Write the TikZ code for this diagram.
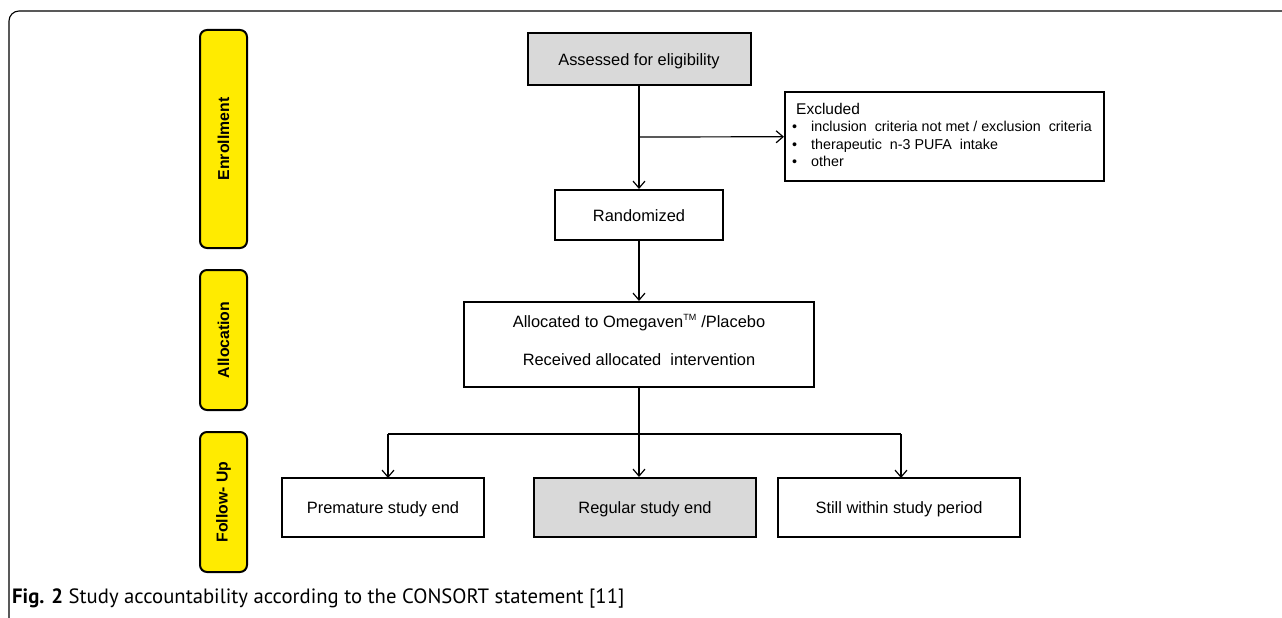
\documentclass[tikz,border=0pt]{standalone}
\usepackage{fontspec}
\setmainfont{Liberation Sans}
\newfontfamily\capfont{PT Sans}
\usetikzlibrary{arrows.meta, shapes}

\definecolor{phaseyellow}{HTML}{FFEB00}
\definecolor{boxgray}{HTML}{D9D9D9}

\begin{document}
\begin{tikzpicture}[x=1pt, y=-1pt,
		box/.style = {draw, line width=2pt, fill=white, inner sep=0pt, font=\fontsize{16.4}{19}\selectfont},
		onebox/.style = {box, text height=14pt, text depth=1.5pt},
		graybox/.style = {onebox, fill=boxgray},
		phase/.style = {draw, line width=2pt, fill=phaseyellow, rounded corners=7pt, rotate=90,
			minimum height=47pt, inner sep=0pt, font=\bfseries\fontsize{15.8}{18}\selectfont},
		link/.style = {draw, line width=1.2pt, -{Straight Barb[length=7pt, width=12pt, line width=1.2pt]}}]
		\useasboundingbox (0,0) rectangle (1282,618);
		% outer frame
		\draw[line width=1.1pt, rounded corners=10pt] (9,640) -- (9,11) -- (1300,11);
		% phases
		\node[phase, minimum width=218pt] (enroll) at (223.5,139) {Enrollment};
		\node[phase, minimum width=140pt] (alloc-phase) at (223.5,340) {Allocation};
		\node[phase, minimum width=140pt] (follow) at (223.5,502) {Follow- Up};
		% boxes
		\node[graybox, minimum width=223pt, minimum height=52pt] (assess) at (639,59) {Assessed for eligibility};
		\node[box, minimum width=319pt, minimum height=89pt] (excl) at (944.5,136.5) {};
		\node[anchor=north west, align=left, inner sep=0pt, font=\fontsize{14.3}{17.5}\selectfont]
			(excl-text) at (796,103) {{\fontsize{15.5}{17}\selectfont Excluded}\\
			\hspace{-4pt}\textbullet\hspace{14pt}inclusion\ \ criteria not met / exclusion\ \ criteria\\
			\hspace{-4pt}\textbullet\hspace{14pt}therapeutic\ \ n-3 PUFA\ \ intake\\
			\hspace{-4pt}\textbullet\hspace{14pt}other};
		\node[onebox, minimum width=168pt, minimum height=50pt] (rand) at (639,215) {Randomized};
		\node[box, minimum width=350pt, minimum height=85pt, align=center] (alloc) at (639,344.5)
			{Allocated to Omegaven\textsuperscript{\fontsize{9}{9}\selectfont TM} /Placebo\\[19pt]Received allocated\ \ intervention\\[-10pt]\mbox{}};
		\node[onebox, minimum width=202pt, minimum height=59pt] (premature) at (383,507.5) {Premature study end};
		\node[graybox, minimum width=222pt, minimum height=59pt] (regular) at (645,507.5) {Regular study end};
		\node[onebox, minimum width=242pt, minimum height=59pt] (still) at (899,507.5) {Still within study period};
		% connectors
		\coordinate (excl-branch) at (639,137);
		\coordinate (split) at (639,434);
		\path[link] (assess) -- (rand);
		\path[link] (excl-branch) -- (excl);
		\path[link] (rand) -- (alloc);
		\path[draw, line width=1.2pt] (alloc) -- (split);
		\path[draw, line width=1.2pt] (388,434) -- (901,434);
		\path[link] (388,434) -- (388,478);
		\path[link] (split) -- (split |- regular.north);
		\path[link] (901,434) -- (901,478);
		% caption
		\node[anchor=west, inner sep=0pt, font=\capfont\fontsize{20.7}{24}\selectfont] (caption) at (12,598)
			{\textbf{Fig. 2} Study accountability according to the CONSORT statement [11]};
\end{tikzpicture}
\end{document}
